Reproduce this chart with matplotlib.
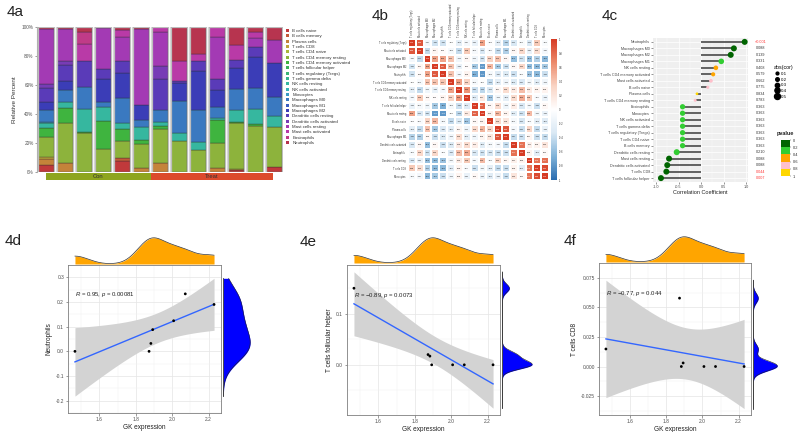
import numpy as np
import matplotlib.pyplot as plt
from matplotlib.colors import ListedColormap, BoundaryNorm, LinearSegmentedColormap
from matplotlib.patches import Patch
from matplotlib.lines import Line2D
import matplotlib.transforms as mtransforms

W, H = 799, 432

# ---------------- 4a: immune cell fractions per sample ----------------
cell_types = ['B cells naive', 'B cells memory', 'Plasma cells', 'T cells CD8',
              'T cells CD4 naive', 'T cells CD4 memory resting',
              'T cells CD4 memory activated', 'T cells follicular helper',
              'T cells regulatory (Tregs)', 'T cells gamma delta', 'NK cells resting',
              'NK cells activated', 'Monocytes', 'Macrophages M0', 'Macrophages M1',
              'Macrophages M2', 'Dendritic cells resting', 'Dendritic cells activated',
              'Mast cells resting', 'Mast cells activated', 'Eosinophils', 'Neutrophils']

b_naive = [4.6, 0, 0, 0, 7.6, 0, 0, 0, 0, 0, 1.1, 0, 3.4]
b_memory = [0, 0, 0, 0, 1.6, 0, 0, 0, 0, 0, 0, 0, 0]
plasma = [3.9, 5.7, 0, 0, 0, 2.3, 5.7, 0, 0, 2.3, 0, 0, 0]
t_cd8 = [1.4, 0, 0, 0, 0, 0, 0, 0, 0, 0, 0.5, 0, 0]
cd4_mem_rest = [14, 28, 26.4, 16, 12, 17, 24, 21.4, 15, 17.7, 32.6, 32.2, 27.6]
cd4_mem_act = [6, 10.6, 1, 19, 8, 2.3, 1.6, 0, 0, 15.6, 0.5, 1, 0]
nk_rest = [3.5, 3.9, 15.6, 9.7, 4.6, 9.7, 3, 5, 5.3, 1.8, 8.7, 10.3, 7.4]
monocytes = [1, 0, 0, 0, 0, 0, 0, 0, 0, 0, 0, 0, 0]
mac_m0 = [8.1, 8.5, 15, 3.4, 17.5, 4.6, 8.5, 22.5, 22.8, 7.4, 14.3, 15, 13.3]
mac_m2 = [5.7, 6.4, 0, 16, 17, 10.3, 0, 12.4, 26.4, 12, 14.5, 21.8, 23.4]
dc_rest = [10, 11, 18, 7, 8.3, 0, 21.4, 1.8, 7.6, 7.6, 5.7, 6.9, 0]
dc_act = [2.8, 2.3, 0, 0, 0, 0, 9.2, 0, 0, 0, 0, 0, 0]
mast_rest = [38, 22.5, 0, 28.7, 16.5, 53, 23, 0, 0, 28.7, 0, 6.4, 15.6]
mast_act = [0, 0, 12, 0, 5, 0, 3.4, 13.8, 4.6, 6.9, 10.3, 4, 0]
eosinophils = [0, 0, 8, 0, 0, 0, 0, 0, 0, 0, 0, 0, 0]
neutrophils = [1, 1, 3.4, 0.5, 1.8, 1, 0, 23, 18.4, 0, 12.6, 3.4, 9]

groups = ['Con', 'Treat']
group_n = [6, 7]

# ---------------- 4b: correlation matrix (upper triangle) ----------------
hm_labels = ['T cells regulatory (Tregs)', 'Mast cells activated', 'Macrophages M0',
             'Macrophages M2', 'Neutrophils', 'T cells CD4 memory activated',
             'T cells CD4 memory resting', 'NK cells resting', 'T cells follicular helper',
             'Mast cells resting', 'B cells naive', 'Plasma cells', 'Macrophages M1',
             'Dendritic cells activated', 'Eosinophils', 'Dendritic cells resting',
             'T cells CD8', 'Monocytes']
hm_upper = [
    [1.00, 0.88, -0.10, -0.36, -0.36, -0.02, -0.23, -0.10, -0.18, 0.56, -0.03, -0.23, -0.46, -0.33, -0.06, -0.33, 0.38, -0.06],
    [1.00, -0.41, 0.07, 0.03, -0.09, -0.41, 0.38, -0.08, -0.33, -0.05, -0.41, -0.48, 0.06, 0.29, -0.18, 0.25, -0.10],
    [1.00, 0.56, 0.55, 0.41, -0.13, 0.06, -0.13, -0.36, 0.33, 0.42, 0.06, -0.58, -0.37, -0.58, -0.47, -0.62],
    [1.00, 0.87, 0.41, -0.18, 0.02, -0.52, -0.78, 0.46, -0.52, -0.39, 0.06, 0.30, -0.60, -0.61, -0.52],
    [1.00, 0.41, -0.10, 0.08, -0.67, -0.79, -0.09, -0.30, -0.29, -0.38, -0.04, -0.56, -0.61, -0.39],
    [1.00, 0.56, 0.33, -0.09, -0.02, -0.41, -0.25, -0.13, -0.29, -0.32, -0.11, -0.25, -0.13],
    [1.00, 0.62, -0.38, -0.43, -0.31, 0.07, 0.26, 0.16, 0.43, 0.15, 0.08, 0.08],
    [1.00, -0.27, 0.17, -0.53, -0.13, -0.23, 0.28, 0.52, 0.38, -0.05, -0.18],
    [1.00, 0.83, 0.06, 0.28, -0.13, 0.14, -0.33, -0.10, -0.38, 0.05],
    [1.00, 0.10, 0.47, 0.08, -0.26, -0.37, 0.45, -0.12, -0.18],
    [1.00, 0.29, 0.18, -0.09, -0.34, -0.04, -0.23, -0.27],
    [1.00, 0.89, -0.10, -0.39, 0.32, -0.41, -0.18],
    [1.00, -0.40, -0.38, 0.07, -0.39, -0.40],
    [1.00, 0.77, 0.11, 0.08, 0.20],
    [1.00, 0.09, -0.24, 0.04],
    [1.00, 0.76, 0.77],
    [1.00, 0.93],
    [1.00],
]

# ---------------- 4c: correlation with GK ----------------
lol_names = ['Neutrophils', 'Macrophages M0', 'Macrophages M2', 'Macrophages M1',
             'NK cells resting', 'T cells CD4 memory activated', 'Mast cells activated',
             'B cells naive', 'Plasma cells', 'T cells CD4 memory resting', 'Eosinophils',
             'Monocytes', 'NK cells activated', 'T cells gamma delta',
             'T cells regulatory (Tregs)', 'T cells CD4 naive', 'B cells memory',
             'Dendritic cells resting', 'Mast cells resting', 'Dendritic cells activated',
             'T cells CD8', 'T cells follicular helper']
lol_cor = [0.97, 0.73, 0.66, 0.45, 0.33, 0.27, 0.22, 0.15, -0.09, -0.13, -0.41, -0.41,
           -0.41, -0.41, -0.41, -0.41, -0.41, -0.54, -0.71, -0.75, -0.77, -0.89]
lol_p = [0.0008, 0.088, 0.139, 0.331, 0.408, 0.579, 0.662, 0.775, 0.834, 0.783, 0.363,
         0.363, 0.363, 0.363, 0.363, 0.363, 0.363, 0.210, 0.088, 0.088, 0.044, 0.007]
lol_ptext = ['<0.001', '0.088', '0.139', '0.331', '0.408', '0.579', '0.662', '0.775',
             '0.834', '0.783', '0.363', '0.363', '0.363', '0.363', '0.363', '0.363',
             '0.363', '0.210', '0.088', '0.088', '0.044', '0.007']

# ---------------- 4d-f: GK expression vs. cell fractions ----------------
gk = [1.466, 1.873, 1.883, 1.893, 2.008, 2.072, 2.230]
neutro_frac = [0.0, 0.0, 0.032, 0.088, 0.124, 0.233, 0.190]
tfh_frac = [0.150, 0.020, 0.017, 0.0, 0.0, 0.0, 0.0]
cd8_frac = [0.0148, 0.0578, 0.0, 0.003, 0.0, 0.0, 0.0]


def box(x0, y0, x1, y1):
    return [x0 / W, 1 - y1 / H, (x1 - x0) / W, (y1 - y0) / H]


plt.rcParams['font.family'] = ['Liberation Sans', 'DejaVu Sans']
plt.rcParams['mathtext.fontset'] = 'custom'
plt.rcParams['mathtext.rm'] = 'Liberation Sans'
plt.rcParams['mathtext.it'] = 'Liberation Sans:italic'
fig = plt.figure(figsize=(W / 100, H / 100), dpi=100)

for lab, (px, py) in zip(['4a', '4b', '4c', '4d', '4e', '4f'],
                         [(7, 12), (372, 16), (602, 16), (5, 241), (300, 242), (564, 241)]):
    fig.text(px / W, 1 - py / H, lab, fontsize=11, va='center', ha='left', color='#222222')

# ---------------- 4a ----------------
pct = {name: [0] * 13 for name in cell_types}
pct.update({'B cells naive': b_naive, 'B cells memory': b_memory, 'Plasma cells': plasma,
            'T cells CD8': t_cd8, 'T cells CD4 memory resting': cd4_mem_rest,
            'T cells CD4 memory activated': cd4_mem_act, 'NK cells resting': nk_rest,
            'Monocytes': monocytes, 'Macrophages M0': mac_m0, 'Macrophages M2': mac_m2,
            'Dendritic cells resting': dc_rest, 'Dendritic cells activated': dc_act,
            'Mast cells resting': mast_rest, 'Mast cells activated': mast_act,
            'Eosinophils': eosinophils, 'Neutrophils': neutrophils})
type_colors = ['#c0393b', '#c25a38', '#c4833a', '#bfa63a', '#a9b53a', '#8db33c',
               '#3fb43f', '#3cb35a', '#3ab574', '#38b68e', '#36b79f', '#38b3b6',
               '#3a9cc3', '#3a79c0', '#3a5cc0', '#3b3db7', '#5a3bb8', '#773cb6',
               '#a33ab4', '#b93aa7', '#c03b88', '#b7344f']

ax_a = fig.add_axes(box(37, 27, 283, 172))
xs = np.arange(13)
total = np.zeros(13)
for name in cell_types:
    total += np.array(pct[name], float)
bottom = np.zeros(13)
for name, col in zip(cell_types, type_colors):
    vals = np.array(pct[name], float) / total * 100
    m = vals > 0
    ax_a.bar(xs[m], vals[m], 0.84, bottom=bottom[m], color=col,
             edgecolor='#2e2e2e', linewidth=0.25)
    bottom += vals
ax_a.bar(xs, bottom, 0.84, fill=False, edgecolor='#bdbdbd', linewidth=0.9)
ax_a.set_xlim(-0.47, 12.47)
ax_a.set_ylim(-0.3, 100.3)
ax_a.set_yticks([0, 20, 40, 60, 80, 100])
ax_a.set_yticklabels(['0%', '20%', '40%', '60%', '80%', '100%'])
ax_a.tick_params(axis='y', labelsize=3.4, colors='#555555', length=1.5, width=0.4, pad=1)
ax_a.set_xticks([])
for s in ['top', 'right', 'bottom']:
    ax_a.spines[s].set_visible(False)
ax_a.spines['left'].set_color('#b0b0b0')
ax_a.set_ylabel('Relative Percent', fontsize=4.6, color='#333333', labelpad=3)

ax_g = fig.add_axes(box(46, 173, 273, 180))
start = 0
for g, n, c in zip(groups, group_n, ['#8ea51e', '#dc4a2c']):
    ax_g.barh(0, n, left=start, height=1, color=c)
    ax_g.text(start + n / 2, 0, g, ha='center', va='center', fontsize=4.2, color='#333333')
    start += n
ax_g.set_xlim(0, sum(group_n))
ax_g.set_ylim(-0.5, 0.5)
ax_g.axis('off')

handles = [Patch(facecolor=c, edgecolor='none') for c in type_colors]
leg = fig.legend(handles, cell_types, loc='upper left', bbox_to_anchor=(286 / W, 1 - 29 / H),
                 frameon=False, fontsize=3.2, handlelength=0.6, handleheight=0.6,
                 handletextpad=0.8, labelspacing=0.3, borderaxespad=0, borderpad=0)
for t in leg.get_texts():
    t.set_color('#333333')

# ---------------- 4b ----------------
n_hm = len(hm_labels)
mat = np.zeros((n_hm, n_hm))
for i, row in enumerate(hm_upper):
    mat[i, i:] = row
    mat[i:, i] = row
cmap_b = LinearSegmentedColormap.from_list(
    'corr', ['#2a6db0', '#7fb2d8', '#d9e8f4', '#ffffff', '#f9d4c4', '#ec8a6b', '#d63b24'])
ax_b = fig.add_axes(box(408, 39, 549, 180))
mesh = ax_b.pcolormesh(np.arange(n_hm + 1), np.arange(n_hm + 1), mat, cmap=cmap_b,
                       vmin=-1, vmax=1, edgecolors='white', linewidth=0.15)
ax_b.set_xlim(0, n_hm)
ax_b.set_ylim(n_hm, 0)
for i in range(n_hm):
    for j in range(n_hm):
        v = mat[i, j]
        ax_b.text(j + 0.5, i + 0.5, f'{v:.2f}', ha='center', va='center', fontsize=1.5,
                  color='white' if abs(v) > 0.7 else '#222222')
ax_b.set_xticks(np.arange(n_hm) + 0.5)
ax_b.set_yticks(np.arange(n_hm) + 0.5)
ax_b.set_xticklabels(hm_labels, rotation=90, fontsize=1.8, color='#333333')
ax_b.set_yticklabels(hm_labels, fontsize=1.8, color='#333333')
ax_b.xaxis.tick_top()
ax_b.tick_params(length=0, pad=1.5)
for s in ax_b.spines.values():
    s.set_visible(False)

cax_b = fig.add_axes(box(551, 39, 557, 180))
cb = fig.colorbar(mesh, cax=cax_b, ticks=np.linspace(-1, 1, 11))
cb.ax.set_yticklabels([f'{t:g}' for t in np.round(np.linspace(-1, 1, 11), 1)])
cb.ax.tick_params(labelsize=1.9, length=0, pad=1.5, colors='#333333')
cb.outline.set_visible(False)

# ---------------- 4c ----------------
ax_c = fig.add_axes(box(653, 38, 748, 182))
yy = np.arange(len(lol_names))
cor = np.array(lol_cor)
pcols = ['#006400', '#32cd32', '#ffa500', '#ffc0cb', '#ffd700']
pcmap = ListedColormap(pcols)
pnorm = BoundaryNorm([0, 0.2, 0.4, 0.6, 0.8, 1.0], pcmap.N)
diam = 2 + 8 * np.minimum(np.abs(cor), 0.5)
ax_c.set_facecolor('#efefef')
ax_c.hlines(yy, 0, cor, color='#3a3a3a', lw=1.1, zorder=2)
ax_c.scatter(cor, yy, s=(diam * 0.72) ** 2, c=lol_p, cmap=pcmap, norm=pnorm,
             edgecolors='none', zorder=3)
ax_c.set_xlim(-1.067, 1.044)
ax_c.set_ylim(len(lol_names) - 0.4, -0.6)
ax_c.set_xticks([-1, -0.5, 0, 0.5, 1])
ax_c.set_xticks([-0.75, -0.25, 0.25, 0.75], minor=True)
ax_c.set_xticklabels(['-1.0', '-0.5', '0.0', '0.5', '1.0'])
ax_c.set_yticks(yy)
ax_c.set_yticklabels(lol_names)
ax_c.grid(True, which='major', color='white', lw=0.5)
ax_c.grid(True, which='minor', axis='x', color='white', lw=0.25)
ax_c.set_axisbelow(True)
ax_c.tick_params(labelsize=2.7, colors='#444444', length=1.2, width=0.4, pad=1)
ax_c.tick_params(which='minor', length=0)
for s in ax_c.spines.values():
    s.set_visible(False)
ax_c.set_xlabel('Correlation Coefficient', fontsize=4, labelpad=1, color='#222222')
trans = mtransforms.blended_transform_factory(ax_c.transAxes, ax_c.transData)
for y, txt, p in zip(yy, lol_ptext, lol_p):
    ax_c.text(1.135, y, txt, transform=trans, ha='center', va='center', fontsize=2.7,
              color='#ff3333' if p < 0.05 else '#333333')

size_breaks = [0.1, 0.2, 0.3, 0.4, 0.5]
sh = [Line2D([], [], ls='', marker='o', color='black',
             markersize=(2 + 8 * b) * 0.72) for b in size_breaks]
leg2 = fig.legend(sh, [f'{b:g}' for b in size_breaks], title='abs(cor)', loc='upper left',
                  bbox_to_anchor=(772 / W, 1 - 63 / H), frameon=False, fontsize=3.2,
                  title_fontsize=3.8, handletextpad=0.2, labelspacing=0.35, borderpad=0,
                  handlelength=1.2)
leg2._legend_box.align = 'left'

cax_c = fig.add_axes(box(781, 140, 790, 176))
cax_c.imshow(np.arange(5)[:, None], cmap=pcmap, aspect='auto', extent=(0, 1, 1, 0))
cax_c.set_xticks([])
cax_c.set_yticks([0, 0.2, 0.4, 0.6, 0.8, 1.0])
cax_c.set_yticklabels(['0', '0.2', '0.4', '0.6', '0.8', '1'])
cax_c.yaxis.tick_right()
cax_c.tick_params(labelsize=2.9, length=1, width=0.3, pad=0.8, colors='#333333')
for s in cax_c.spines.values():
    s.set_visible(False)
fig.text(777 / W, 1 - 133 / H, 'pvalue', fontsize=4, fontweight='bold', va='center',
         color='#222222')

# ---------------- 4d-f ----------------


def bw_nrd0(v):
    sd = v.std(ddof=1)
    q75, q25 = np.percentile(v, [75, 25])
    lo = min(sd, (q75 - q25) / 1.34)
    if lo <= 0:
        lo = sd
    return 0.9 * lo * len(v) ** -0.2


def kde(v, grid):
    bw = bw_nrd0(v)
    z = (grid[:, None] - v[None, :]) / bw
    return np.exp(-0.5 * z ** 2).sum(1) / (len(v) * bw * np.sqrt(2 * np.pi))


def scatter_panel(main, top, right, yvals, ylabel, rtext, yticks, ylabs):
    x = np.array(gk)
    y = np.array(yvals)
    n = len(x)
    slope, icpt = np.polyfit(x, y, 1)
    xg = np.linspace(x.min(), x.max(), 80)
    fit = icpt + slope * xg
    resid = y - (icpt + slope * x)
    s = np.sqrt((resid ** 2).sum() / (n - 2))
    se = s * np.sqrt(1 / n + (xg - x.mean()) ** 2 / ((x - x.mean()) ** 2).sum())
    tq = 2.570582
    lo, hi = fit - tq * se, fit + tq * se

    ax = fig.add_axes(box(*main))
    ax.fill_between(xg, lo, hi, color='#d3d3d3', lw=0, zorder=1)
    ax.plot(xg, fit, color='#3366ff', lw=1, zorder=2)
    ax.scatter(x, y, s=4, color='black', zorder=3, edgecolors='none')
    ymin, ymax = min(lo.min(), y.min()), max(hi.max(), y.max())
    xmin, xmax = x.min(), x.max()
    dx, dy = (xmax - xmin) * 0.05, (ymax - ymin) * 0.05
    ax.set_xlim(xmin - dx, xmax + dx)
    ax.set_ylim(ymin - dy, ymax + dy)
    ax.set_xticks([1.6, 1.8, 2.0, 2.2])
    ax.set_xticks([1.5, 1.7, 1.9, 2.1], minor=True)
    ax.set_yticks(yticks)
    ax.set_yticklabels(ylabs)
    mids = [(a + b) / 2 for a, b in zip(yticks[:-1], yticks[1:])]
    ax.set_yticks(mids + [yticks[0] - (yticks[1] - yticks[0]) / 2,
                          yticks[-1] + (yticks[1] - yticks[0]) / 2], minor=True)
    ax.grid(True, which='major', color='#e5e5e5', lw=0.5)
    ax.grid(True, which='minor', color='#f2f2f2', lw=0.35)
    ax.set_axisbelow(True)
    ax.tick_params(labelsize=3.5, colors='#4d4d4d', length=1.8, width=0.4, pad=1)
    ax.tick_params(which='minor', length=0)
    for sp in ax.spines.values():
        sp.set_color('#7f7f7f')
        sp.set_linewidth(0.6)
    ax.set_xlabel('GK expression', fontsize=4.7, labelpad=1.5, color='#222222')
    ax.set_ylabel(ylabel, fontsize=4.7, labelpad=2, color='#222222')
    ax.text(xmin, 0.80, rtext, transform=mtransforms.blended_transform_factory(
        ax.transData, ax.transAxes), fontsize=4.3, va='center', ha='left', color='#222222')

    axt = fig.add_axes(box(*top))
    gx = np.linspace(xmin, xmax, 400)
    dxv = kde(x, gx)
    axt.fill_between(gx, 0, dxv, color='#ffa500', lw=0)
    axt.plot(gx, dxv, color='#333333', lw=0.5)
    axt.set_xlim(ax.get_xlim())
    axt.set_ylim(0, dxv.max() * 1.03)
    axt.axis('off')

    axr = fig.add_axes(box(*right))
    gy = np.linspace(ymin, ymax, 600)
    dyv = kde(y, gy)
    axr.fill_betweenx(gy, 0, dyv, color='#0000ff', lw=0)
    axr.plot(dyv, gy, color='#222222', lw=0.4)
    axr.plot([0, 0], [ymin, ymax], color='#333333', lw=0.6)
    axr.set_ylim(ax.get_ylim())
    axr.set_xlim(-dyv.max() * 0.01, dyv.max() * 1.03)
    axr.axis('off')


scatter_panel((68, 265, 221, 413), (68, 237, 221, 264), (223, 265, 251, 413),
              neutro_frac, 'Neutrophils', r'$R$ = 0.95, $p$ = 0.00081',
              [-0.2, -0.1, 0.0, 0.1, 0.2, 0.3], ['-0.2', '-0.1', '0.0', '0.1', '0.2', '0.3'])
scatter_panel((347, 265, 500, 415), (347, 237, 500, 263), (502, 265, 533, 415),
              tfh_frac, 'T cells follicular helper', r'$R$ = $-$0.89, $p$ = 0.0073',
              [0.0, 0.1], ['0.0', '0.1'])
scatter_panel((599, 263, 751, 415), (599, 236, 751, 262), (753, 263, 778, 415),
              cd8_frac, 'T cells CD8', r'$R$ = $-$0.77, $p$ = 0.044',
              [-0.025, 0.0, 0.025, 0.05, 0.075], ['-0.025', '0.000', '0.025', '0.050', '0.075'])

fig.savefig('out.png', dpi=100)
